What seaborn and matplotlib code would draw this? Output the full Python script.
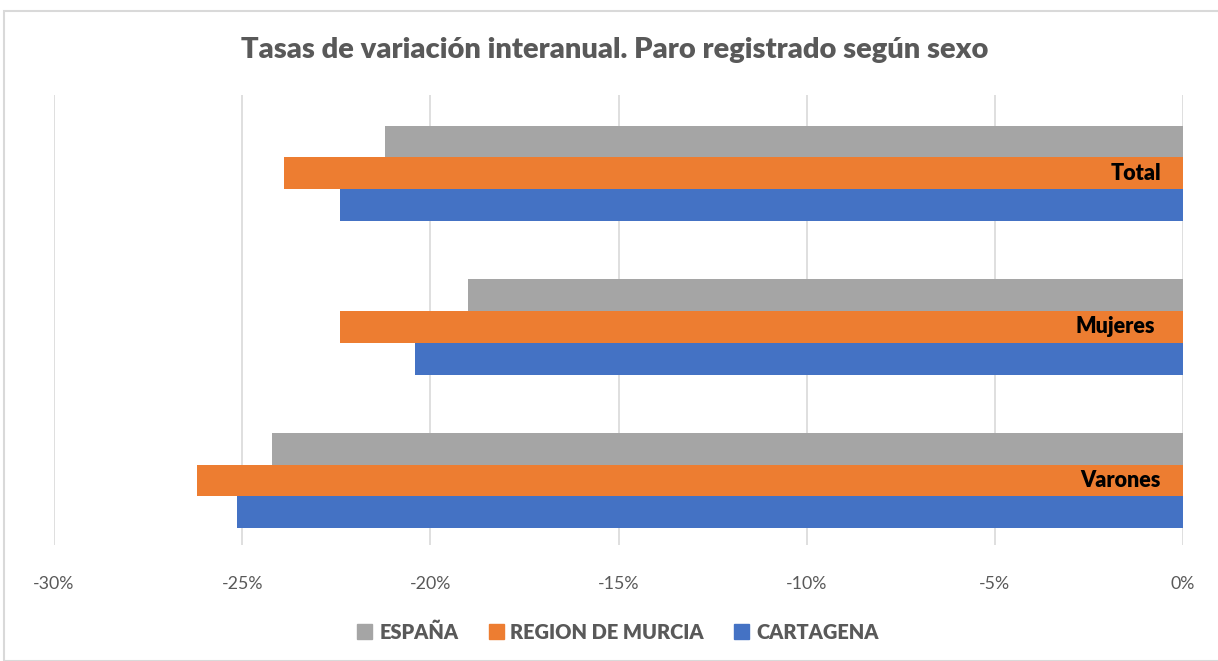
import numpy as np
import pandas as pd
import matplotlib.pyplot as plt
import seaborn as sns
from matplotlib.patches import Rectangle

sexos = ["Total", "Mujeres", "Varones"]
zonas = ["ESPAÑA", "REGION DE MURCIA", "CARTAGENA"]
espana = [-21.2, -19.0, -24.2]
murcia = [-23.9, -22.4, -26.2]
cartagena = [-22.4, -20.4, -25.15]
colores = ["#A5A5A5", "#ED7D31", "#4472C4"]

df = pd.DataFrame({
    "sexo": sexos * 3,
    "zona": [z for z in zonas for _ in sexos],
    "valor": espana + murcia + cartagena,
})

sns.set_style("white")
plt.rcParams["font.family"] = ["Lato", "DejaVu Sans"]

fig = plt.figure(figsize=(12.18, 6.61), dpi=100)
ax = fig.add_axes([54 / 1218, (661 - 545) / 661, (1183 - 54) / 1218, 450 / 661])

sns.barplot(data=df, y="sexo", x="valor", hue="zona", order=sexos, hue_order=zonas,
            palette=colores, orient="h", width=0.62, saturation=1, linewidth=0,
            errorbar=None, ax=ax)

ax.set_xlim(-30, 0)
ax.set_ylim(2.42, -0.51)
ax.set_xticks(np.arange(-30, 1, 5))
ax.set_xticklabels([f"{v}%" for v in range(-30, 1, 5)], color="#595959", fontsize=12.8)
ax.tick_params(axis="x", length=0, pad=22)
ax.set_yticks([])
ax.set_xlabel("")
ax.set_ylabel("")
ax.grid(axis="x", color="#D9D9D9", linewidth=1.2)
ax.set_axisbelow(True)
for s in ax.spines.values():
    s.set_visible(False)

for i, s in enumerate(sexos):
    off = -20 if s == "Mujeres" else -16
    ax.annotate(s, xy=(0, i), xytext=(off, 0), textcoords="offset points",
                ha="right", va="center", fontsize=15.5, fontweight="heavy", color="black")

ax.get_legend().remove()
handles = [Rectangle((0, 0), 1, 1, color=c) for c in colores]
fig.legend(handles, zonas, loc="center", bbox_to_anchor=(618 / 1218, 1 - 632 / 661), ncol=3,
           frameon=False, handlelength=0.75, handleheight=0.75, handletextpad=0.35,
           columnspacing=1.5, prop={"size": 14.4, "weight": "heavy"}, labelcolor="#595959")

fig.text(615 / 1218, 1 - 50 / 661, "Tasas de variación interanual. Paro registrado según sexo",
         ha="center", va="center", fontsize=21, fontweight="heavy", color="#595959")

fig.patches.append(Rectangle((4 / 1218, 0), 1.2, 1 - 11 / 661, transform=fig.transFigure,
                             fill=False, edgecolor="#D9D9D9", linewidth=1.5))

fig.savefig("out.png", dpi=100)
